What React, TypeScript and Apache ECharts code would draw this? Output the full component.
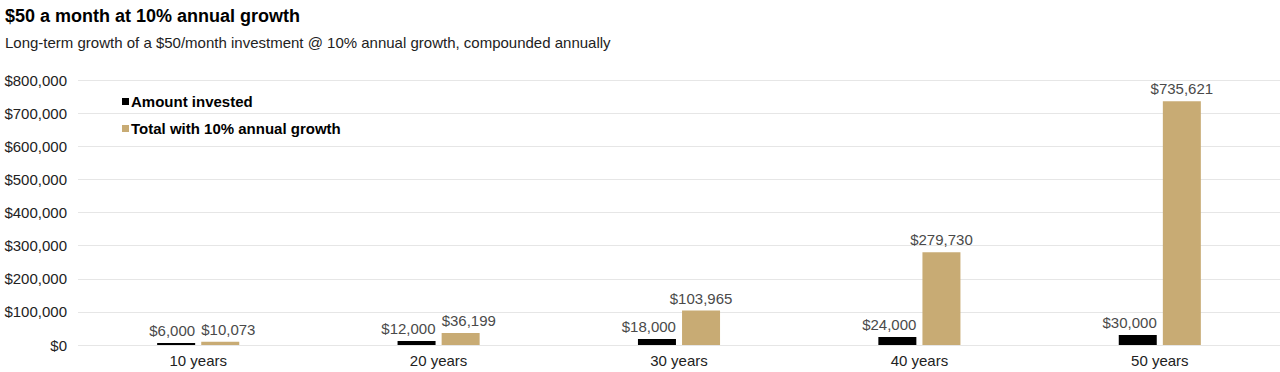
import React, { useEffect, useRef } from "react";
import * as echarts from "echarts";

const categories = ["10 years", "20 years", "30 years", "40 years", "50 years"];
const invested = [6000, 12000, 18000, 24000, 30000];
const totalGrowth = [10073, 36199, 103965, 279730, 735621];
const seriesNames = ["Amount invested", "Total with 10% annual growth"];
const yTicks = { min: 0, max: 800000, interval: 100000 };

const FONT = "'Liberation Sans', Arial, Helvetica, sans-serif";
const fmt = (v: number) => "$" + v.toLocaleString("en-US");

export default function App() {
  const ref = useRef<HTMLDivElement>(null);
  useEffect(() => {
    if (!ref.current) return;
    const chart = echarts.init(ref.current, undefined, { renderer: "svg" });
    chart.setOption({
      animation: false,
      textStyle: { fontFamily: FONT },
      title: {
        text: "$50 a month at 10% annual growth",
        subtext: "Long-term growth of a $50/month investment @ 10% annual growth, compounded annually",
        left: 0,
        top: 2,
        itemGap: 10,
        textStyle: { fontFamily: FONT, fontSize: 18, fontWeight: "bold", color: "#000" },
        subtextStyle: { fontFamily: FONT, fontSize: 15, color: "#222" },
      },
      legend: {
        orient: "vertical",
        left: 117,
        top: 89,
        itemWidth: 7,
        itemHeight: 7,
        itemGap: 12,
        icon: "rect",
        textStyle: { fontFamily: FONT, fontSize: 15, fontWeight: "bold", color: "#000", padding: [0, 0, 0, -3] },
        data: seriesNames,
      },
      grid: { left: 78, right: 0, top: 80, bottom: 27, containLabel: false },
      xAxis: {
        type: "category",
        data: categories,
        axisLine: { show: false },
        axisTick: { show: false },
        axisLabel: { fontFamily: FONT, fontSize: 15, color: "#222", margin: 8 },
      },
      yAxis: {
        type: "value",
        min: yTicks.min,
        max: yTicks.max,
        interval: yTicks.interval,
        axisLine: { show: false },
        axisTick: { show: false },
        splitLine: { lineStyle: { color: "#e6e6e6", width: 1 } },
        axisLabel: { fontFamily: FONT, fontSize: 15, color: "#222", margin: 11, formatter: (v: number) => fmt(v) },
      },
      series: [
        {
          name: seriesNames[0],
          type: "bar",
          data: invested,
          barWidth: 38,
          barGap: "16%",
          itemStyle: { color: "#000" },
          label: {
            show: true,
            position: "top",
            distance: 5,
            align: "right",
            offset: [19, 0],
            fontFamily: FONT,
            fontSize: 15,
            color: "#4a4a4a",
            formatter: (p: any) => fmt(p.value),
          },
        },
        {
          name: seriesNames[1],
          type: "bar",
          data: totalGrowth.map((v, i) =>
            i < 2 ? { value: v, label: { align: "left", offset: [-19, 0] } } : v
          ),
          barWidth: 38,
          itemStyle: { color: "#c8ab74" },
          label: {
            show: true,
            position: "top",
            distance: 5,
            fontFamily: FONT,
            fontSize: 15,
            color: "#4a4a4a",
            formatter: (p: any) => fmt(p.value),
          },
        },
      ],
    });
    return () => chart.dispose();
  }, []);
  return <div ref={ref} style={{ position: "absolute", left: 0, top: 0, width: 1280, height: 372 }} />;
}
